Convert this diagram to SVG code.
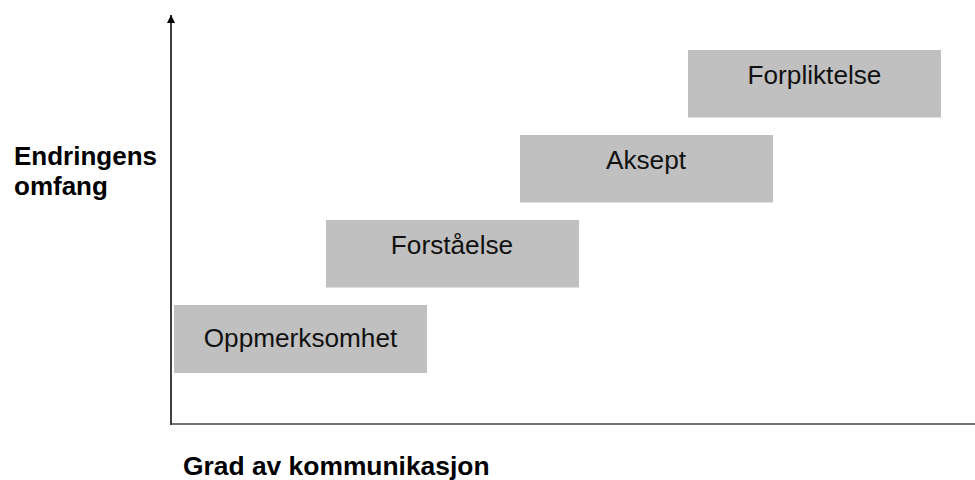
<svg xmlns="http://www.w3.org/2000/svg" width="975" height="480" viewBox="0 0 975 480">
<defs>
<style>
.box{fill:#c0c0c0;}
.lbl{font-family:"Liberation Sans",Arial,sans-serif;font-size:26.2px;fill:#111;text-anchor:middle;}
.ax{font-family:"Liberation Sans",Arial,sans-serif;font-size:26px;font-weight:bold;fill:#000;}
</style>
<marker id="arr" viewBox="0 0 10 10" refX="10" refY="5" markerWidth="8" markerHeight="8" markerUnits="userSpaceOnUse" orient="auto">
<path d="M0,0 L10,5 L0,10 Z" fill="#000"/>
</marker>
</defs>
<rect width="975" height="480" fill="#fff"/>
<g id="connectors">
<line x1="171" y1="425" x2="171" y2="15" stroke="#000" stroke-width="1.5" marker-end="url(#arr)"/>
<line x1="170" y1="424" x2="975" y2="424" stroke="#444" stroke-width="1.5"/>
</g>
<g id="axis-y-label">
<text class="ax" x="14" y="165">Endringens</text>
<text class="ax" x="14" y="195">omfang</text>
</g>
<g id="axis-x-label">
<text class="ax" x="183" y="475" style="font-size:26.4px">Grad av kommunikasjon</text>
</g>
<g id="oppmerksomhet">
<rect class="box" x="174" y="305" width="253" height="68"/>
<text class="lbl" x="300.5" y="347">Oppmerksomhet</text>
</g>
<g id="forstaelse">
<rect class="box" x="326" y="220" width="253" height="67.5"/>
<text class="lbl" x="452" y="254">Forståelse</text>
</g>
<g id="aksept">
<rect class="box" x="520" y="135" width="253" height="67.5"/>
<text class="lbl" x="646" y="169">Aksept</text>
</g>
<g id="forpliktelse">
<rect class="box" x="688" y="50" width="253" height="67.5"/>
<text class="lbl" x="814.5" y="84">Forpliktelse</text>
</g>
</svg>
